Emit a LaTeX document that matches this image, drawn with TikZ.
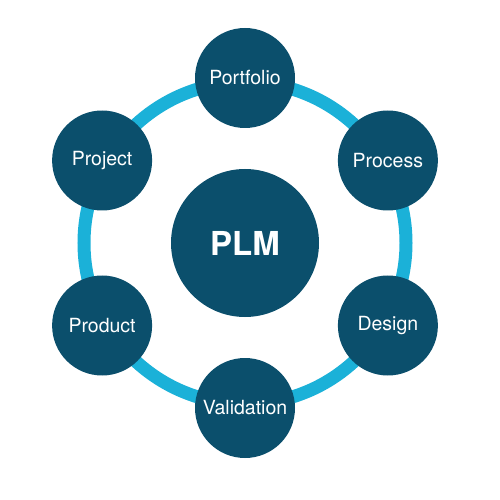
\documentclass[tikz,border=0pt]{standalone}
\usepackage{fontspec}
\setmainfont{TeX Gyre Heros}
\usepackage{xcolor}
\definecolor{plmdark}{HTML}{0B4F6C}
\definecolor{plmring}{HTML}{1BB1D8}
\tikzset{
	stage/.style={circle, fill=plmdark, text=white, minimum size=100pt, inner sep=0pt, font=\fontsize{19.5}{22}\selectfont},
	hub/.style={circle, fill=plmdark, text=white, minimum size=148pt, inner sep=0pt, font=\fontsize{33}{36}\selectfont\bfseries}
}

\begin{document}
\begin{tikzpicture}[x=1pt,y=1pt]
			\useasboundingbox (-245,-257) rectangle (255,243);
			% Outer ring
			\draw[plmring, line width=13pt] (0,0) circle (161);

			% Centre
			\node[hub] (plm) at (0,0) {PLM};

			% Stages around the ring
			\node[stage] (portfolio) at (90:165) {Portfolio};
			\node[stage] (process) at (30:165) {Process};
			\node[stage] (design) at (-30:165) {Design};
			\node[stage] (validation) at (-90:165) {Validation};
			\node[stage] (product) at (210:165) {Product};
			\node[stage] (project) at (150:165) {Project};
		\end{tikzpicture}
\end{document}
